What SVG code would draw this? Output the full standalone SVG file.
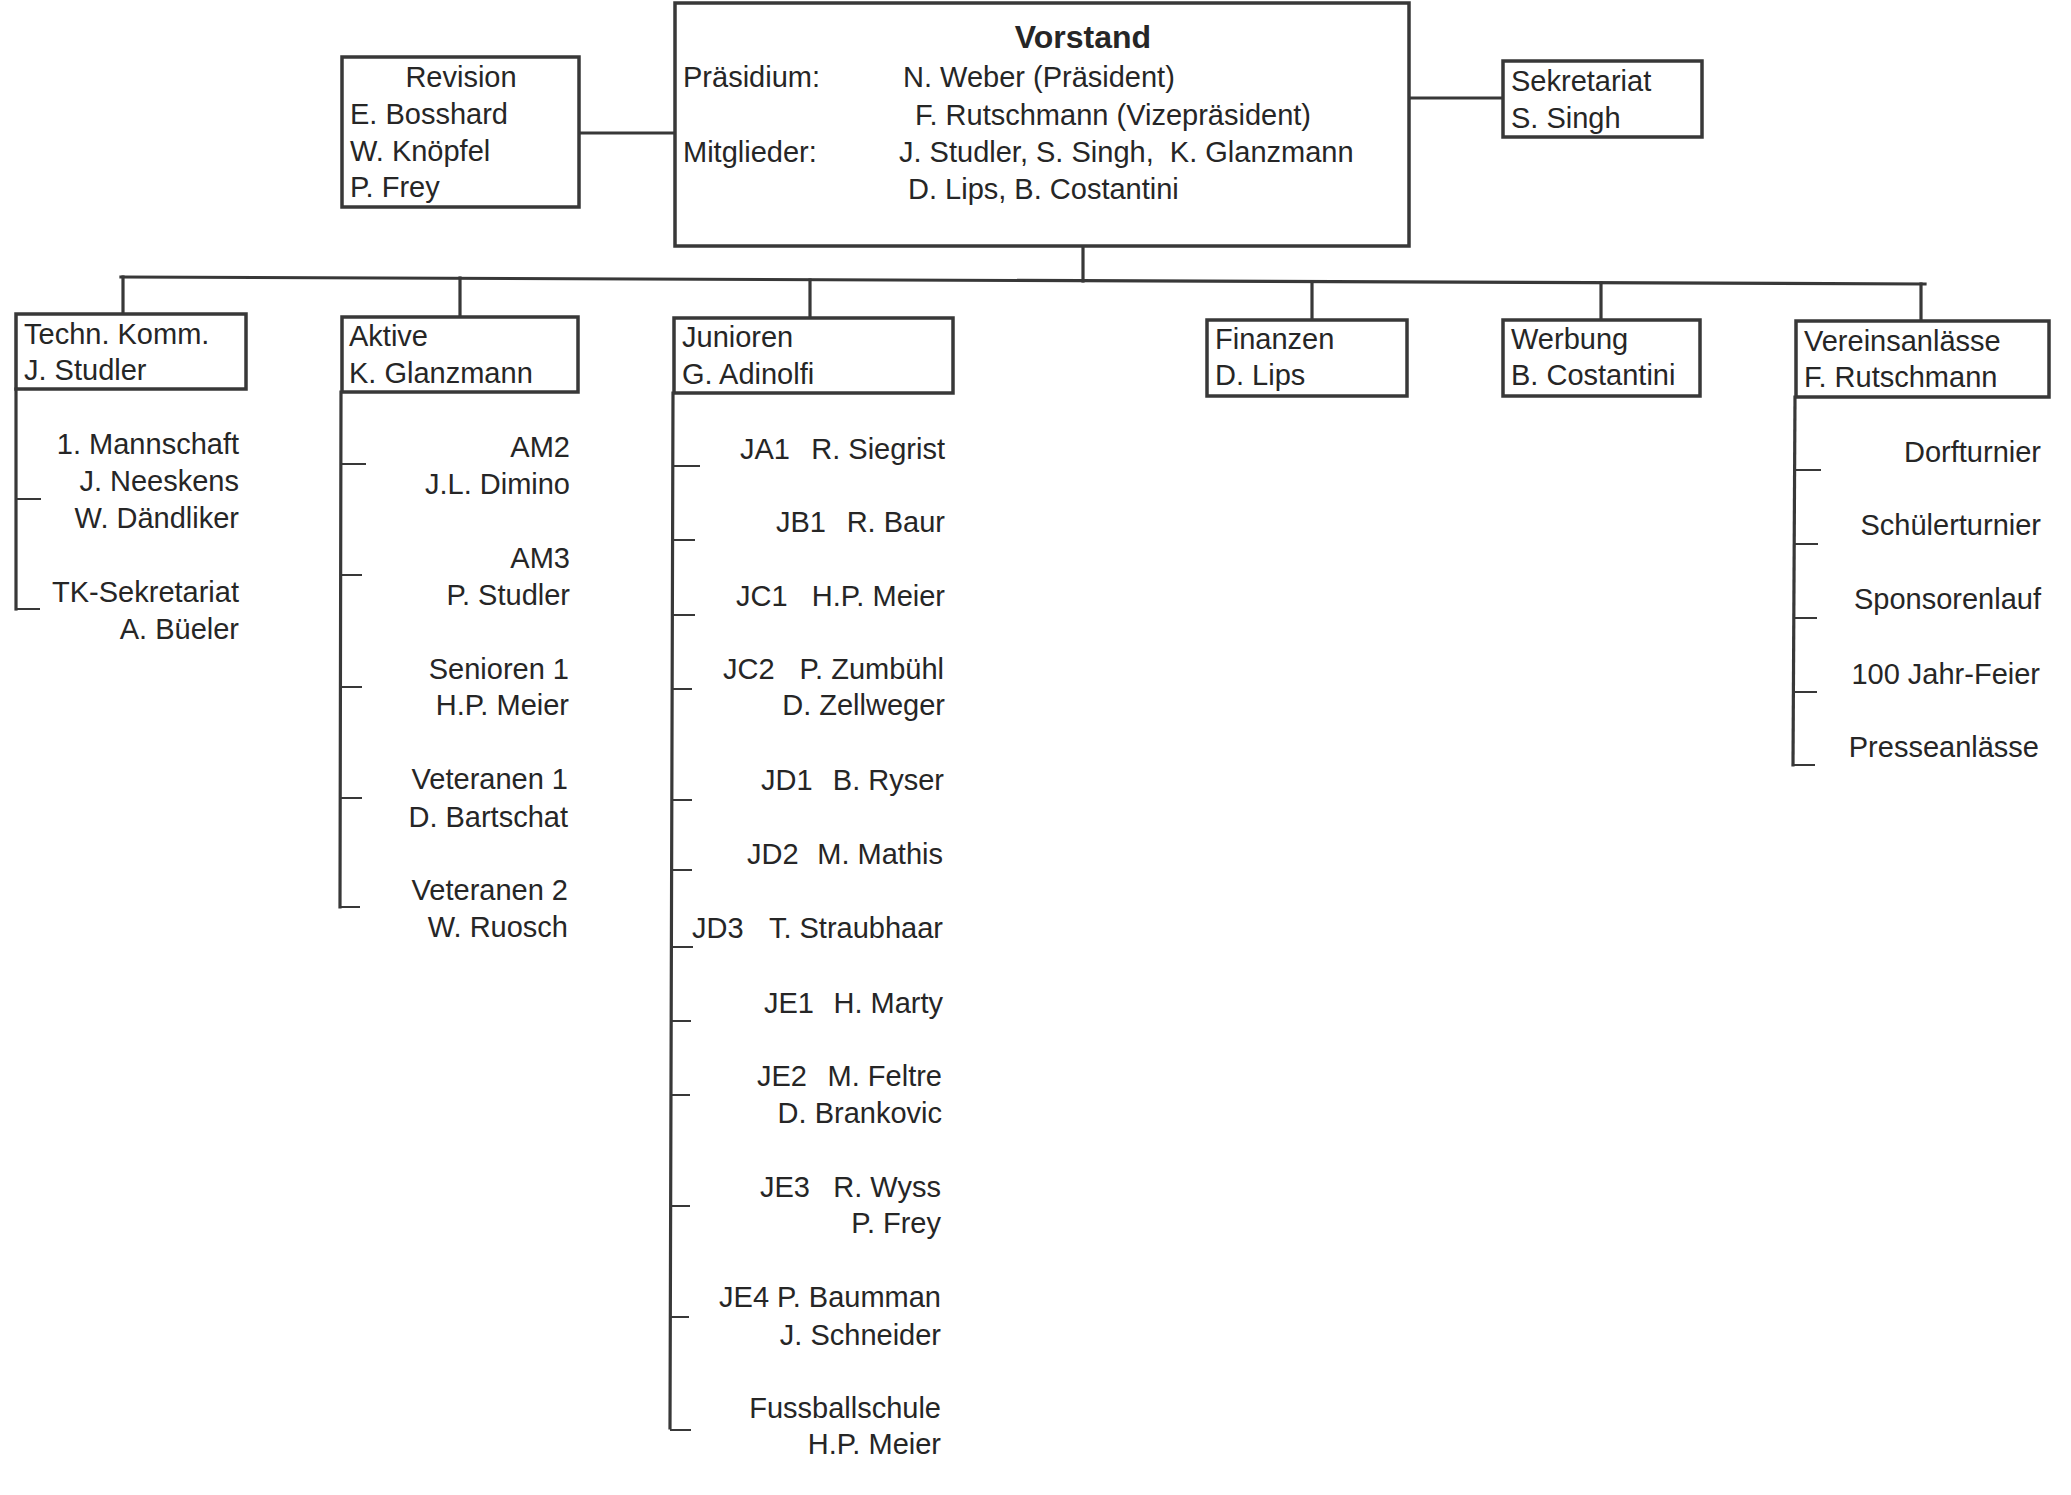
<svg xmlns="http://www.w3.org/2000/svg" width="2071" height="1495" viewBox="0 0 2071 1495">
<style>
  text { font-family: "Liberation Sans", Arial, sans-serif; font-size: 29px; fill: #262626; }
  .b { font-weight: bold; font-size: 32px; }
  .m { text-anchor: middle; }
  .e { text-anchor: end; }
  .box { fill: #ffffff; stroke: #383838; stroke-width: 3.5; }
  .ln { stroke: #383838; stroke-width: 3.2; fill: none; stroke-linecap: square; }
  .tk { stroke: #383838; stroke-width: 2; fill: none; }
</style>
<rect width="2071" height="1495" fill="#ffffff"/>
<g id="connectors">
  <line class="ln" x1="579" y1="133" x2="675" y2="133"/>
  <line class="ln" x1="1409" y1="98" x2="1503" y2="98"/>
  <line class="ln" x1="1083" y1="246" x2="1083" y2="281"/>
  <line class="ln" x1="121" y1="277" x2="1925" y2="284"/>
  <line class="ln" x1="123" y1="277" x2="123" y2="314"/>
  <line class="ln" x1="460" y1="278" x2="460" y2="317"/>
  <line class="ln" x1="810" y1="280" x2="810" y2="318"/>
  <line class="ln" x1="1312" y1="282" x2="1312" y2="320"/>
  <line class="ln" x1="1601" y1="283" x2="1601" y2="320"/>
  <line class="ln" x1="1921" y1="284" x2="1921" y2="321"/>
  <!-- Techn. Komm. branch -->
  <line class="ln" x1="16" y1="389" x2="16" y2="609"/>
  <line class="tk" x1="16" y1="499" x2="41" y2="499"/>
  <line class="tk" x1="16" y1="609" x2="40" y2="609"/>
  <!-- Aktive branch -->
  <line class="ln" x1="341" y1="392" x2="340" y2="907"/>
  <line class="tk" x1="341" y1="464" x2="366" y2="464"/>
  <line class="tk" x1="341" y1="575" x2="362" y2="575"/>
  <line class="tk" x1="340" y1="687" x2="362" y2="687"/>
  <line class="tk" x1="340" y1="798" x2="362" y2="798"/>
  <line class="tk" x1="340" y1="907" x2="360" y2="907"/>
  <!-- Junioren branch -->
  <line class="ln" x1="673" y1="393" x2="670" y2="1428"/>
  <line class="tk" x1="673" y1="466" x2="700" y2="466"/>
  <line class="tk" x1="673" y1="540" x2="695" y2="540"/>
  <line class="tk" x1="673" y1="615" x2="695" y2="615"/>
  <line class="tk" x1="672" y1="689" x2="692" y2="689"/>
  <line class="tk" x1="672" y1="800" x2="692" y2="800"/>
  <line class="tk" x1="672" y1="870" x2="692" y2="870"/>
  <line class="tk" x1="672" y1="947" x2="693" y2="947"/>
  <line class="tk" x1="671" y1="1021" x2="691" y2="1021"/>
  <line class="tk" x1="671" y1="1095" x2="690" y2="1095"/>
  <line class="tk" x1="671" y1="1206" x2="690" y2="1206"/>
  <line class="tk" x1="670" y1="1317" x2="689" y2="1317"/>
  <line class="tk" x1="670" y1="1430" x2="691" y2="1430"/>
  <!-- Vereinsanlässe branch -->
  <line class="ln" x1="1795" y1="397" x2="1793" y2="765"/>
  <line class="tk" x1="1795" y1="470" x2="1821" y2="470"/>
  <line class="tk" x1="1795" y1="544" x2="1818" y2="544"/>
  <line class="tk" x1="1794" y1="618" x2="1817" y2="618"/>
  <line class="tk" x1="1794" y1="692" x2="1817" y2="692"/>
  <line class="tk" x1="1793" y1="765" x2="1815" y2="765"/>
</g>
<g id="vorstand">
  <rect class="box" x="675" y="3" width="734" height="243"/>
  <text class="b m" x="1083" y="48">Vorstand</text>
  <text x="683" y="87">Präsidium:</text>
  <text x="903" y="87">N. Weber (Präsident)</text>
  <text x="915" y="125">F. Rutschmann (Vizepräsident)</text>
  <text x="683" y="162">Mitglieder:</text>
  <text x="899" y="162" xml:space="preserve">J. Studler, S. Singh,  K. Glanzmann</text>
  <text x="908" y="199">D. Lips, B. Costantini</text>
</g>
<g id="revision">
  <rect class="box" x="342" y="57" width="237" height="150"/>
  <text class="m" x="461" y="87">Revision</text>
  <text x="350" y="124">E. Bosshard</text>
  <text x="350" y="161">W. Knöpfel</text>
  <text x="350" y="197">P. Frey</text>
</g>
<g id="sekretariat">
  <rect class="box" x="1503" y="61" width="199" height="76"/>
  <text x="1511" y="91">Sekretariat</text>
  <text x="1511" y="128">S. Singh</text>
</g>
<g id="techn-komm">
  <rect class="box" x="16" y="314" width="230" height="75"/>
  <text x="24" y="344">Techn. Komm.</text>
  <text x="24" y="380">J. Studler</text>
</g>
<g id="aktive">
  <rect class="box" x="342" y="317" width="236" height="75"/>
  <text x="349" y="346">Aktive</text>
  <text x="349" y="383">K. Glanzmann</text>
</g>
<g id="junioren">
  <rect class="box" x="674" y="318" width="279" height="75"/>
  <text x="682" y="347">Junioren</text>
  <text x="682" y="384">G. Adinolfi</text>
</g>
<g id="finanzen">
  <rect class="box" x="1207" y="320" width="200" height="76"/>
  <text x="1215" y="349">Finanzen</text>
  <text x="1215" y="385">D. Lips</text>
</g>
<g id="werbung">
  <rect class="box" x="1503" y="320" width="197" height="76"/>
  <text x="1511" y="349">Werbung</text>
  <text x="1511" y="385">B. Costantini</text>
</g>
<g id="vereinsanlaesse">
  <rect class="box" x="1796" y="321" width="253" height="76"/>
  <text x="1804" y="351">Vereinsanlässe</text>
  <text x="1804" y="387">F. Rutschmann</text>
</g>
<g id="tk-items" class="e">
  <g id="tk-1mannschaft"><text class="e" x="239" y="454">1. Mannschaft</text><text class="e" x="239" y="491">J. Neeskens</text><text class="e" x="239" y="528">W. Dändliker</text></g>
  <g id="tk-sekretariat"><text class="e" x="239" y="602">TK-Sekretariat</text><text class="e" x="239" y="639">A. Büeler</text></g>
</g>
<g id="aktive-items">
  <g id="am2"><text class="e" x="570" y="457">AM2</text><text class="e" x="570" y="494">J.L. Dimino</text></g>
  <g id="am3"><text class="e" x="570" y="568">AM3</text><text class="e" x="570" y="605">P. Studler</text></g>
  <g id="senioren1"><text class="e" x="569" y="679">Senioren 1</text><text class="e" x="569" y="715">H.P. Meier</text></g>
  <g id="veteranen1"><text class="e" x="568" y="789">Veteranen 1</text><text class="e" x="568" y="827">D. Bartschat</text></g>
  <g id="veteranen2"><text class="e" x="568" y="900">Veteranen 2</text><text class="e" x="568" y="937">W. Ruosch</text></g>
</g>
<g id="junioren-items">
  <g id="ja1"><text x="740" y="459">JA1</text><text class="e" x="945" y="459">R. Siegrist</text></g>
  <g id="jb1"><text x="776" y="532">JB1</text><text class="e" x="945" y="532">R. Baur</text></g>
  <g id="jc1"><text x="736" y="606">JC1</text><text class="e" x="945" y="606">H.P. Meier</text></g>
  <g id="jc2"><text x="723" y="679">JC2</text><text class="e" x="944" y="679">P. Zumbühl</text><text class="e" x="945" y="715">D. Zellweger</text></g>
  <g id="jd1"><text x="761" y="790">JD1</text><text class="e" x="944" y="790">B. Ryser</text></g>
  <g id="jd2"><text x="747" y="864">JD2</text><text class="e" x="943" y="864">M. Mathis</text></g>
  <g id="jd3"><text x="692" y="938">JD3</text><text class="e" x="943" y="938">T. Straubhaar</text></g>
  <g id="je1"><text x="764" y="1013">JE1</text><text class="e" x="943" y="1013">H. Marty</text></g>
  <g id="je2"><text x="757" y="1086">JE2</text><text class="e" x="942" y="1086">M. Feltre</text><text class="e" x="942" y="1123">D. Brankovic</text></g>
  <g id="je3"><text x="760" y="1197">JE3</text><text class="e" x="941" y="1197">R. Wyss</text><text class="e" x="941" y="1233">P. Frey</text></g>
  <g id="je4"><text class="e" x="941" y="1307">JE4 P. Baumman</text><text class="e" x="941" y="1345">J. Schneider</text></g>
  <g id="fussballschule"><text class="e" x="941" y="1418">Fussballschule</text><text class="e" x="941" y="1454">H.P. Meier</text></g>
</g>
<g id="vereins-items">
  <g id="dorfturnier"><text class="e" x="2041" y="462">Dorfturnier</text></g>
  <g id="schuelerturnier"><text class="e" x="2041" y="535">Schülerturnier</text></g>
  <g id="sponsorenlauf"><text class="e" x="2041" y="609">Sponsorenlauf</text></g>
  <g id="jahrfeier"><text class="e" x="2040" y="684">100 Jahr-Feier</text></g>
  <g id="presseanlaesse"><text class="e" x="2039" y="757">Presseanlässe</text></g>
</g>
</svg>
